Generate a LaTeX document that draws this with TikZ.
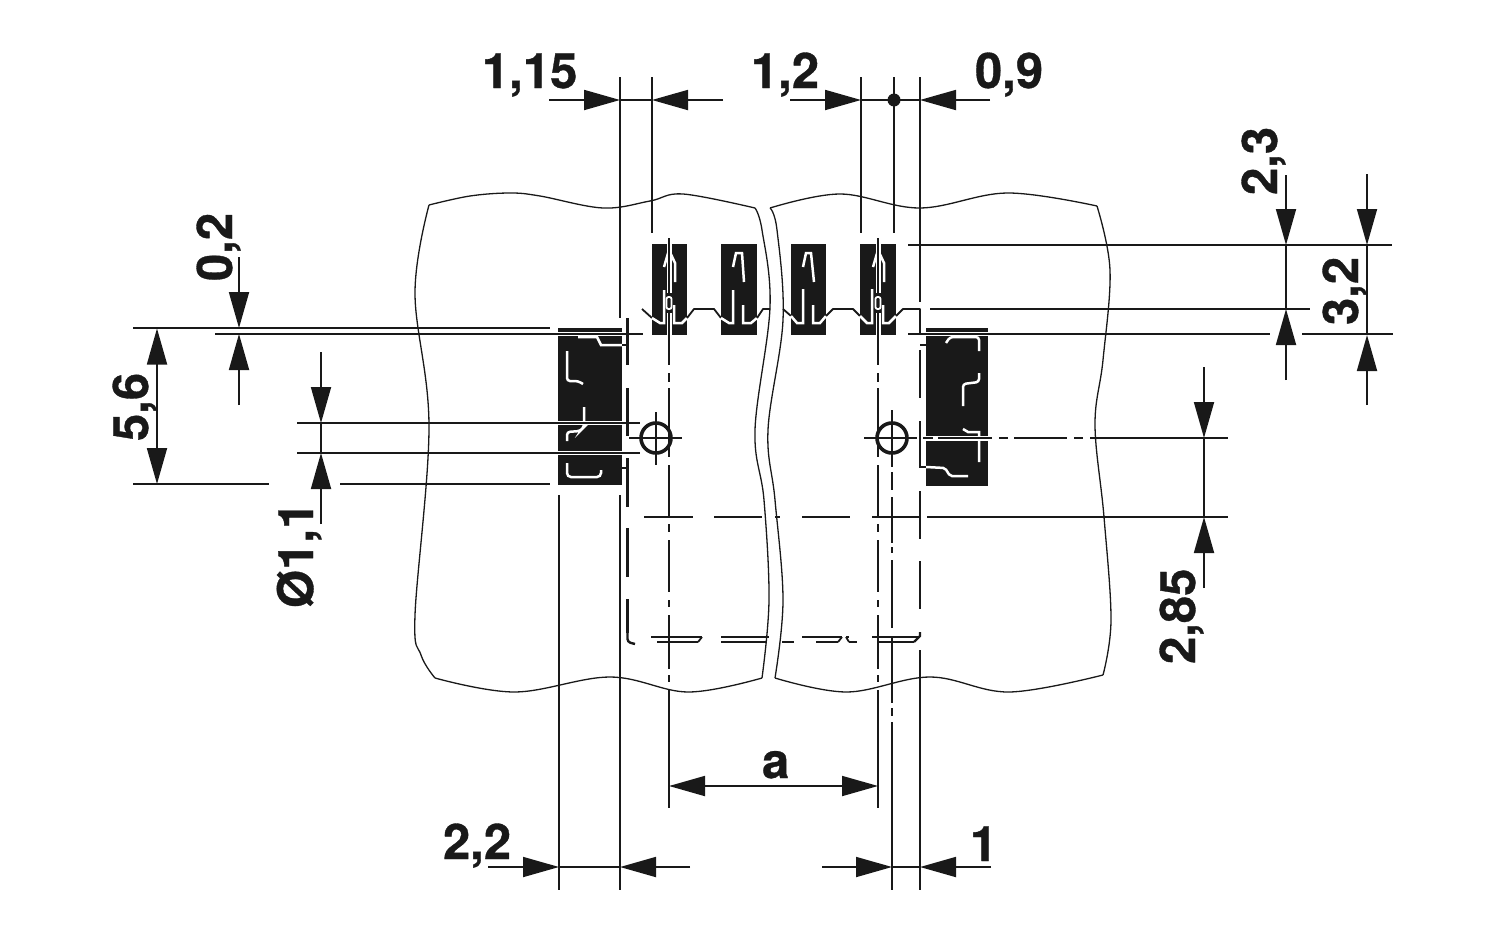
\documentclass[tikz,border=0pt]{standalone}
\usepackage{fontspec}
\setmainfont{TeX Gyre Heros}[BoldFeatures={FakeBold=0.7}]
\usetikzlibrary{
    arrows.meta,
    positioning
}
\definecolor{partblack}{gray}{0.1}
\tikzset{
    % Lines
    outline/.style={line width=1.3pt,color=partblack},
    extline/.style={line width=1.8pt,color=partblack},
    hidden/.style={line width=2.4pt,color=partblack},
    halo/.style={line width=2.5pt,color=white},
    slit/.style={line width=4.5pt,color=white},
    %
    % Arrows
    arrow tip/.tip={Triangle[length=36pt,width=20pt]},
    arr/.style={extline,-{arrow tip}},
    %
    % Labels
    dimlabel/.style={inner sep=0pt,outer sep=0pt,anchor=base west,text=partblack,font=\fontsize{49}{50}\selectfont\bfseries},
    vlabel/.style={dimlabel,rotate=90}
}
\begin{document}
\begin{tikzpicture}[x=1pt,y=-1pt]
    \useasboundingbox (0,0) rectangle (1500,937);
    % left and right piece of the board
    \draw[outline] plot[smooth,tension=.6] coordinates {(429,205) (470,196) (510,193) (540,196) (603,208) (650,201) (683,194) (755,208)};
    \draw[outline] plot[smooth,tension=.6] coordinates {(755,208) (762,230) (770,307) (755,430) (764,500) (769,600) (762,678)};
    \draw[outline] plot[smooth,tension=.6] coordinates {(762,678) (688,692) (610,677) (515,692) (435,678)};
    \draw[outline] plot[smooth,tension=.6] coordinates {(435,678) (421,655) (415,615) (429,427) (415,293) (429,205)};
    \draw[outline] plot[smooth,tension=.6] coordinates {(770,208) (840,194) (920,208) (1007,193) (1097,206)};
    \draw[outline] plot[smooth,tension=.6] coordinates {(1097,206) (1110,270) (1103,360) (1095,425) (1104,517) (1111,620) (1103,675)};
    \draw[outline] plot[smooth,tension=.6] coordinates {(1103,675) (1009,692) (930,677) (847,692) (775,678)};
    \draw[outline] plot[smooth,tension=.6] coordinates {(775,678) (783,600) (775,500) (768,430) (783,320) (777,230) (770,208)};
    % pads
    \fill[partblack] (558,328) rectangle (622,485);
    \fill[partblack] (926,328) rectangle (988,486);
    \foreach \x/\w in {652/35,721/36,791/35,860/36}{
        \fill[partblack] (\x,244) rectangle ++(\w,91);
    }
    % slits for the lines that cross the pads
    \draw[slit] (558,334) -- (622,334);
    \draw[slit] (926,334) -- (988,334);
    \draw[slit] (558,423) -- (622,423);
    \draw[slit] (558,453) -- (622,453);
    % contour inside the left pad
    \draw[halo] (578,337) -- (597,337) -- (601,345) -- (622,345);
    \draw[halo,rounded corners=3pt] (567,351) -- (567,381) -- (578,381) -- (583,384);
    \draw[halo,rounded corners=3pt] (584,407) -- (584,427) -- (580,431) -- (567,432) -- (567,441);
    \draw[halo,rounded corners=4pt] (567,463) -- (567,477) -- (601,477) -- (601,470);
    % contour inside the right pad
    \draw[halo,rounded corners=3pt] (946,343) -- (950,337) -- (979,337) -- (979,351);
    \draw[halo,rounded corners=3pt] (979,373) -- (979,382) -- (963,384) -- (963,406);
    \draw[halo] (963,429) -- (968,432) -- (979,432) -- (979,462);
    \draw[halo,rounded corners=2pt] (926,467) -- (945,468) -- (950,476) -- (968,476);
    % contacts
    \foreach \x in {0,209}{
        \draw[halo,shift={(\x,0)}] (664,267) -- (669,250) -- (675,263) -- (675,282);
    }
    \draw[halo] (733,267) -- (736,253) -- (742,253) -- (744,282);
    \draw[halo] (803,267) -- (806,253) -- (811,253) -- (814,282);
    % stepped profile over the contacts
    \draw[extline,line join=round] (642,309) -- (652,318);
    \draw[halo] (652,318) -- (660,323) -- (664,323) -- (664,290);
    \draw[halo] (674,305) -- (674,323) -- (682,323) -- (687,318);
    \draw[extline,line join=round] (687,318) -- (694,309) -- (714,309) -- (721,318);
    \draw[halo] (721,318) -- (729,323) -- (733,323) -- (733,290);
    \draw[halo] (743,305) -- (743,323) -- (751,323) -- (757,318);
    \draw[extline,line join=round] (757,318) -- (763,309) -- (770,309);
    \draw[extline,line join=round] (783,309) -- (791,316);
    \draw[halo] (791,316) -- (797,323) -- (803,323) -- (803,289);
    \draw[halo] (813,305) -- (813,323) -- (820,323) -- (826,316);
    \draw[extline,line join=round] (826,316) -- (833,309) -- (853,309) -- (860,316);
    \draw[halo] (860,316) -- (867,323) -- (872,323) -- (872,289);
    \draw[halo] (883,305) -- (883,323) -- (889,323) -- (896,316);
    \draw[extline,line join=round] (896,316) -- (903,309) -- (920,309) -- (920,333);
    % centre lines of the contacts
    \foreach \x in {669,878}{
        \draw[white,line width=5pt] (\x,238) -- (\x,293);
        \draw[white,line width=5pt] (\x,313) -- (\x,335);
        \draw[white,rounded corners=2pt,fill=partblack,line width=1.8pt] (\x-2.5,297) rectangle (\x+2.5,309);
        \foreach \a/\b in {238/293,313/365,373/382,388/457,465/517,524/532,540/592,600/607,615/669,675/682,690/808}{
            \draw[extline] (\x,\a) -- (\x,\b);
        }
    }
    % centre line of the right hole
    \foreach \a/\b in {410/467,472/490,497/543,547/553,560/628,637/703,708/716,722/890}{
        \draw[extline] (892,\a) -- (892,\b);
    }
    % hidden edges
    \foreach \a/\b in {318/365,388/436,458/507,528/577,599/633}{
        \draw[hidden] (627.5,\a) -- (627.5,\b);
    }
    \draw[hidden,rounded corners=3pt] (627.5,630) -- (627.5,642) -- (635,644);
    \draw[extline] (622,345) -- (627,345);
    \draw[extline] (622,468) -- (627,468);
    \foreach \a/\b in {350/398,421/468,491/539,561/609}{
        \draw[hidden] (920,\a) -- (920,\b);
    }
    \draw[extline] (920,345) -- (926,345);
    \draw[extline] (920,467) -- (926,467);
    \foreach \a/\b in {644/693,714/762,775/780,802/850,872/920}{
        \draw[hidden] (\a,517) -- (\b,517);
    }
    \foreach \a/\b in {651/702,721/769,802/842,846/849,872/920}{
        \draw[hidden] (\a,637) -- (\b,637);
    }
    \foreach \a/\b in {657/698,721/767,782/794,816/838,849/857,878/914}{
        \draw[hidden] (\a,642) -- (\b,642);
    }
    \draw[extline] (698,642) -- (702,637);
    \draw[extline] (838,642) -- (842,637);
    \draw[extline] (846,637) -- (849,642);
    \draw[hidden] (914,642) -- (920,636) -- (920,632);
    % holes
    \foreach \x in {656,892}{
        \draw[partblack,line width=3.6pt] (\x,438) circle[radius=15];
    }
    \draw[extline] (629,438) -- (682,438);
    \draw[extline] (656,412) -- (656,465);
    \draw[extline] (864,438) -- (917,438);
    % axis through the right hole
    \draw[white,line width=5pt] (923,438) -- (992,438);
    \foreach \a/\b in {923/933,938/992,999/1008,1014/1067,1074/1083,1090/1228}{
        \draw[extline] (\a,438) -- (\b,438);
    }
    % extension lines
    \draw[extline] (620,77) -- (620,318);
    \draw[extline] (652,77) -- (652,233);
    \draw[extline] (861,77) -- (861,233);
    \draw[extline] (894,77) -- (894,233);
    \draw[extline] (920,77) -- (920,302);
    \draw[extline] (559,495) -- (559,890);
    \draw[extline] (620,495) -- (620,890);
    \draw[extline] (920,650) -- (920,890);
    \draw[extline] (133,328) -- (550,328);
    \draw[extline] (215,334) -- (643,334);
    \draw[extline] (297,423) -- (640,423);
    \draw[extline] (297,453) -- (640,453);
    \draw[extline] (133,484) -- (269,484);
    \draw[extline] (340,484) -- (550,484);
    \draw[extline] (908,245) -- (1392,245);
    \draw[extline] (930,309) -- (1310,309);
    \draw[extline] (908,334) -- (1270,334);
    \draw[extline] (1302,334) -- (1393,334);
    \draw[extline] (927,517) -- (1228,517);
    % dimensions
    \draw[arr] (549,100) -- (620,100);
    \draw[arr] (723,100) -- (652,100);
    \draw[extline] (620,100) -- (652,100);
    \draw[arr] (790,100) -- (861,100);
    \draw[arr] (990,100) -- (920,100);
    \draw[extline] (861,100) -- (920,100);
    \fill[partblack] (894,100) circle[radius=6.5];
    \draw[arr] (1286,175) -- (1286,245);
    \draw[arr] (1286,380) -- (1286,309);
    \draw[extline] (1286,245) -- (1286,309);
    \draw[arr] (1367,174) -- (1367,245);
    \draw[arr] (1367,405) -- (1367,335);
    \draw[extline] (1367,245) -- (1367,334);
    \draw[arr] (239,257) -- (239,328);
    \draw[arr] (239,405) -- (239,334);
    \draw[extline,{arrow tip}-{arrow tip}] (157,328.5) -- (157,484);
    \draw[arr] (321,352) -- (321,423);
    \draw[arr] (321,524) -- (321,453);
    \draw[extline] (321,423) -- (321,453);
    \draw[arr] (1204,367) -- (1204,438);
    \draw[arr] (1204,588) -- (1204,517);
    \draw[extline] (1204,438) -- (1204,517);
    \draw[extline,{arrow tip}-{arrow tip}] (669,786) -- (878,786);
    \draw[arr] (488,867) -- (559,867);
    \draw[arr] (690,867) -- (620,867);
    \draw[extline] (559,867) -- (620,867);
    \draw[arr] (822,867) -- (892,867);
    \draw[arr] (991,867) -- (920,867);
    \draw[extline] (892,867) -- (920,867);
    % labels
    \node[dimlabel] (dimA) at (482,88) {1,15};
    \node[dimlabel] (dimB) at (751,88) {1,2};
    \node[dimlabel] (dimC) at (975,88) {0,9};
    \node[dimlabel] (dimD) at (443,859) {2,2};
    \node[dimlabel] (dimE) at (970,861) {1};
    \node[dimlabel] (dimF) at (762,778) {a};
    \node[vlabel] (dimG) at (1277,195) {2,3};
    \node[vlabel] (dimH) at (1358,325) {3,2};
    \node[vlabel] (dimI) at (232,281) {0,2};
    \node[vlabel] (dimJ) at (148,441) {5,6};
    \node[vlabel] (dimK) at (313,608) {Ø1,1};
    \node[vlabel] (dimL) at (1195,664) {2,85};
\end{tikzpicture}
\end{document}
